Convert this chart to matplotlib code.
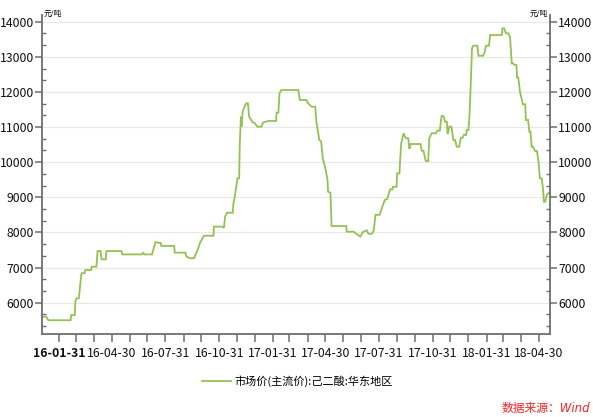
import matplotlib
matplotlib.use("Agg")
import matplotlib.pyplot as plt
import matplotlib.dates as mdates
from matplotlib.ticker import MultipleLocator, FixedLocator
import pandas as pd

plt.rcParams['font.family'] = ['Noto Sans CJK SC', 'DejaVu Sans']

dates = [
    "2016-01-03", "2016-01-09", "2016-01-13", "2016-02-20", "2016-02-21", "2016-02-27",
    "2016-02-28", "2016-03-01", "2016-03-05", "2016-03-09", "2016-03-10", "2016-03-15",
    "2016-03-16", "2016-03-26", "2016-03-27", "2016-04-04", "2016-04-06", "2016-04-11",
    "2016-04-13", "2016-04-20", "2016-04-21", "2016-05-17", "2016-05-18", "2016-06-20",
    "2016-06-23", "2016-06-25", "2016-07-08", "2016-07-14", "2016-07-23", "2016-07-24",
    "2016-08-15", "2016-08-16", "2016-09-03", "2016-09-05", "2016-09-11", "2016-09-18",
    "2016-09-25", "2016-09-28", "2016-10-05", "2016-10-21", "2016-10-22", "2016-11-05",
    "2016-11-08", "2016-11-10", "2016-11-13", "2016-11-23", "2016-11-24", "2016-11-27",
    "2016-11-29", "2016-12-01", "2016-12-04", "2016-12-05", "2016-12-07", "2016-12-08",
    "2016-12-10", "2016-12-12", "2016-12-16", "2016-12-19", "2016-12-21", "2016-12-24",
    "2016-12-26", "2016-12-31", "2017-01-04", "2017-01-11", "2017-01-14", "2017-01-23",
    "2017-02-05", "2017-02-06", "2017-02-09", "2017-02-11", "2017-02-14", "2017-03-15",
    "2017-03-18", "2017-03-29", "2017-04-01", "2017-04-07", "2017-04-13", "2017-04-15",
    "2017-04-20", "2017-04-23", "2017-04-26", "2017-05-01", "2017-05-04", "2017-05-05",
    "2017-05-09", "2017-05-11", "2017-06-05", "2017-06-06", "2017-06-18", "2017-06-23",
    "2017-06-29", "2017-07-04", "2017-07-10", "2017-07-13", "2017-07-19", "2017-07-22",
    "2017-07-25", "2017-08-01", "2017-08-05", "2017-08-10", "2017-08-14", "2017-08-16",
    "2017-08-19", "2017-08-23", "2017-08-24", "2017-08-30", "2017-08-31", "2017-09-04",
    "2017-09-05", "2017-09-07", "2017-09-11", "2017-09-15", "2017-09-19", "2017-09-21",
    "2017-09-23", "2017-10-10", "2017-10-12", "2017-10-15", "2017-10-19", "2017-10-23",
    "2017-10-25", "2017-10-29", "2017-11-05", "2017-11-08", "2017-11-12", "2017-11-15",
    "2017-11-18", "2017-11-21", "2017-11-24", "2017-11-25", "2017-11-26", "2017-11-28",
    "2017-12-02", "2017-12-05", "2017-12-08", "2017-12-11", "2017-12-15", "2017-12-18",
    "2017-12-21", "2017-12-23", "2017-12-27", "2017-12-28", "2017-12-31", "2018-01-02",
    "2018-01-04", "2018-01-06", "2018-01-08", "2018-01-15", "2018-01-17", "2018-01-25",
    "2018-01-27", "2018-01-30", "2018-02-04", "2018-02-06", "2018-02-26", "2018-02-27",
    "2018-03-02", "2018-03-05", "2018-03-09", "2018-03-12", "2018-03-15", "2018-03-17",
    "2018-03-20", "2018-03-23", "2018-03-24", "2018-03-26", "2018-03-29", "2018-04-03",
    "2018-04-07", "2018-04-08", "2018-04-12", "2018-04-14", "2018-04-16", "2018-04-18",
    "2018-04-20", "2018-04-24", "2018-04-27", "2018-04-30", "2018-05-02", "2018-05-05",
    "2018-05-07", "2018-05-09", "2018-05-11", "2018-05-14", "2018-05-17", "2018-05-19",
]
prices = [
    5600, 5600, 5500, 5500, 5650, 5650,
    6030, 6125, 6125, 6790, 6840, 6840,
    6930, 6930, 7025, 7025, 7470, 7470,
    7235, 7235, 7470, 7470, 7375, 7375,
    7420, 7375, 7375, 7720, 7700, 7615,
    7615, 7425, 7425, 7310, 7265, 7265,
    7550, 7700, 7907, 7907, 8165, 8165,
    8130, 8450, 8560, 8560, 8800, 9065,
    9300, 9540, 9540, 10500, 11295, 11010,
    11437, 11533, 11675, 11675, 11295, 11220,
    11150, 11106, 11010, 11010, 11130, 11172,
    11172, 11410, 11410, 11960, 12055, 12055,
    11770, 11770, 11675, 11580, 11580, 11152,
    10630, 10600, 10110, 9777, 9500, 9160,
    9130, 8183, 8183, 8020, 8020, 7950,
    7880, 8020, 8060, 7960, 7960, 8050,
    8500, 8500, 8700, 8923, 8950, 9065,
    9227, 9227, 9300, 9300, 9680, 9683,
    10015, 10537, 10822, 10680, 10680, 10375,
    10517, 10517, 10327, 10327, 10033, 10033,
    10680, 10822, 10822, 10897, 10897, 11315,
    11315, 11152, 11152, 10822, 10822, 11010,
    11010, 10630, 10630, 10440, 10440, 10697,
    10697, 10775, 10775, 10916, 10916, 11437,
    12290, 13240, 13315, 13315, 13030, 13030,
    13100, 13315, 13315, 13620, 13620, 13810,
    13810, 13667, 13667, 13570, 12810, 12810,
    12767, 12767, 12415, 12415, 12006, 11648,
    11648, 11200, 11200, 10868, 10868, 10440,
    10440, 10318, 10318, 9968, 9540, 9540,
    9300, 8875, 8875, 9065, 9131, 9131,
]
series_name = "市场价(主流价):己二酸:华东地区"
unit = "元/吨"
source = "数据来源：Wind"
xtick_dates = ["2016-01-31", "2016-04-30", "2016-07-31", "2016-10-31", "2017-01-31",
               "2017-04-30", "2017-07-31", "2017-10-31", "2018-01-31", "2018-04-30"]
xtick_labels = ["16-01-31", "16-04-30", "16-07-31", "16-10-31", "17-01-31",
                "17-04-30", "17-07-31", "17-10-31", "18-01-31", "18-04-30"]
ytick_values = [6000, 7000, 8000, 9000, 10000, 11000, 12000, 13000, 14000]

x = pd.to_datetime(dates)
W, H = 593, 417
fig = plt.figure(figsize=(W / 100, H / 100), dpi=100)
ax = fig.add_axes([42.3 / W, 1 - 334.3 / H, (550 - 42.3) / W, (334.3 - 15) / H])

line_color = "#92c352"
ax.plot(x, prices, color=line_color, lw=1.3, label=series_name, solid_joinstyle="miter")

ax.set_xlim(pd.Timestamp("2016-01-02 12:00"), pd.Timestamp("2018-05-19 08:00"))
ax.set_ylim(5100, 14190)

spine_c = "#6e6e6e"
ax.spines["top"].set_visible(False)
for s in ["left", "right", "bottom"]:
    ax.spines[s].set_color(spine_c)
    ax.spines[s].set_linewidth(1.3)

ax.yaxis.set_major_locator(FixedLocator(ytick_values))
ax.yaxis.set_minor_locator(MultipleLocator(1000 / 3))
ax.grid(axis="y", which="major", color="#e8e8e8", lw=0.9)
ax.set_axisbelow(True)

ax.tick_params(axis="y", which="major", direction="out", length=5, width=1.1, color=spine_c,
               labelsize=8.8, left=True, right=True, labelleft=True, labelright=True, pad=1)
ax.tick_params(axis="y", which="minor", direction="in", length=3, width=1.0, color=spine_c,
               left=True, right=True)

xt = pd.to_datetime(xtick_dates)
ax.set_xticks(xt)
ax.set_xticklabels(xtick_labels)
ax.xaxis.set_minor_locator(mdates.MonthLocator(bymonthday=-1))
ax.tick_params(axis="x", which="both", direction="out", length=6, width=1.1, color=spine_c,
               labelsize=8.8, pad=3)
ax.get_xticklabels()[0].set_fontweight("bold")
for lab in ax.get_yticklabels() + ax.get_xticklabels():
    lab.set_color("#111111")

fig.text(44 / W, 1 - 14 / H, unit, fontsize=5.5, ha="left", va="center")
fig.text(548 / W, 1 - 14 / H, unit, fontsize=5.5, ha="right", va="center")

fig.legend(loc="center", bbox_to_anchor=(297 / W, 1 - 381 / H), frameon=False,
           fontsize=8, handlelength=2.6, handletextpad=0.3)

fig.text(590 / W, 1 - 408 / H, source, fontsize=8.5, color="#ff2020", style="italic",
         family=["DejaVu Sans", "Noto Sans CJK SC"], ha="right", va="center")

fig.savefig("out.png", dpi=100)
